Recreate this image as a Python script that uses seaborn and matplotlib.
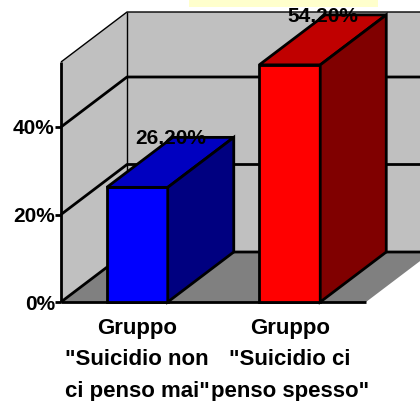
import matplotlib
matplotlib.use("Agg")
import matplotlib.pyplot as plt
from matplotlib.patches import Polygon, Rectangle
import pandas as pd
import seaborn as sns

categories = ['Gruppo\n"Suicidio non\nci penso mai"', 'Gruppo\n"Suicidio ci\npenso spesso"']
values = [26.2, 54.2]
value_labels = ["26,20%", "54,20%"]
front_colors = ["#0000FF", "#FF0000"]
top_colors = ["#0000C0", "#C00000"]
side_colors = ["#000080", "#800000"]
y_ticks = [0, 20, 40]
y_tick_labels = ["0%", "20%", "40%"]
gridlines = [20, 40]

W, H = 420, 401
DX = 66 / 152.5      # depth in category units
DY = 50 / 4.375      # depth in percent units
YMAX = 240 / 4.375
LW = 2.0

sns.set_theme(style="white")
plt.rcParams["font.family"] = ["Liberation Sans", "DejaVu Sans"]
plt.rcParams["font.weight"] = "bold"

fig = plt.figure(figsize=(W / 100, H / 100), dpi=100, facecolor="white")
ax = fig.add_axes([61 / W, (H - 302) / H, 305 / W, 240 / H])
ax.patch.set_visible(False)
for s in ax.spines.values():
    s.set_visible(False)

df = pd.DataFrame({"cat": categories, "val": values})
sns.barplot(data=df, x="cat", y="val", hue="cat", palette=front_colors, width=0.4,
            saturation=1, dodge=False, legend=False, ax=ax, edgecolor="black",
            linewidth=LW, zorder=5)
ax.set_xlim(-0.5, 1.5)
ax.set_ylim(0, YMAX)
ax.set_xlabel("")
ax.set_ylabel("")

# banner at the top
fig.add_artist(Rectangle((189 / W, 1 - 7 / H), 189 / W, 7 / H, transform=fig.transFigure,
                         facecolor="#FFFFCC", edgecolor="none", zorder=0))

x0, x1 = -0.5, 1.5
def poly(pts, fc, ec="none", lw=0, z=1):
    ax.add_patch(Polygon(pts, closed=True, facecolor=fc, edgecolor=ec, linewidth=lw,
                         clip_on=False, zorder=z, joinstyle="miter"))
def line(xs, ys, lw=LW, z=2):
    ax.plot(xs, ys, color="black", lw=lw, clip_on=False, zorder=z, solid_capstyle="butt")

# walls and floor
top = YMAX + DY
poly([(x0 + DX, DY), (x1 + DX, DY), (x1 + DX, top), (x0 + DX, top)], "#C0C0C0")
poly([(x0, 0), (x0 + DX, DY), (x0 + DX, top), (x0, YMAX)], "#C0C0C0")
poly([(x0, 0), (x1, 0), (x1 + DX, DY), (x0 + DX, DY)], "#808080")

for g in gridlines:
    line([x0, x0 + DX, x1 + DX], [g, g + DY, g + DY])
line([x0, x0 + DX, x1 + DX], [0, DY, DY])
line([x0, x1], [0, 0])
line([x0, x0], [0, YMAX])
line([x0, x0 + DX, x1 + DX], [YMAX, top, top], lw=1.0)
line([x0 + DX, x0 + DX], [DY, top], lw=1.0)

# depth faces of the bars
for bar, v, lab, tc, sc in zip(ax.patches, values, value_labels, top_colors, side_colors):
    bar.set_clip_on(False)
    l, r = bar.get_x(), bar.get_x() + bar.get_width()
    poly([(l, v), (r, v), (r + DX, v + DY), (l + DX, v + DY)], tc, "black", LW, 5)
    poly([(r, 0), (r + DX, DY), (r + DX, v + DY), (r, v)], sc, "black", LW, 5)
    ax.annotate(lab, xy=((l + r) / 2 + DX / 2, v + DY), xytext=(0, -1), textcoords="offset points",
                ha="center", va="center", fontsize=15, fontweight="bold", color="black",
                zorder=8, annotation_clip=False)

ax.set_yticks(y_ticks, y_tick_labels, fontsize=15, fontweight="bold", color="black")
ax.tick_params(axis="y", length=4.5, width=LW, color="black", pad=0, left=True)
ax.tick_params(axis="x", length=0, pad=11.5)
for t in ax.get_xticklabels():
    t.set_fontsize(16)
    t.set_fontweight("bold")
    t.set_color("black")
    t.set_linespacing(1.65)

fig.savefig("out.png", dpi=100)
